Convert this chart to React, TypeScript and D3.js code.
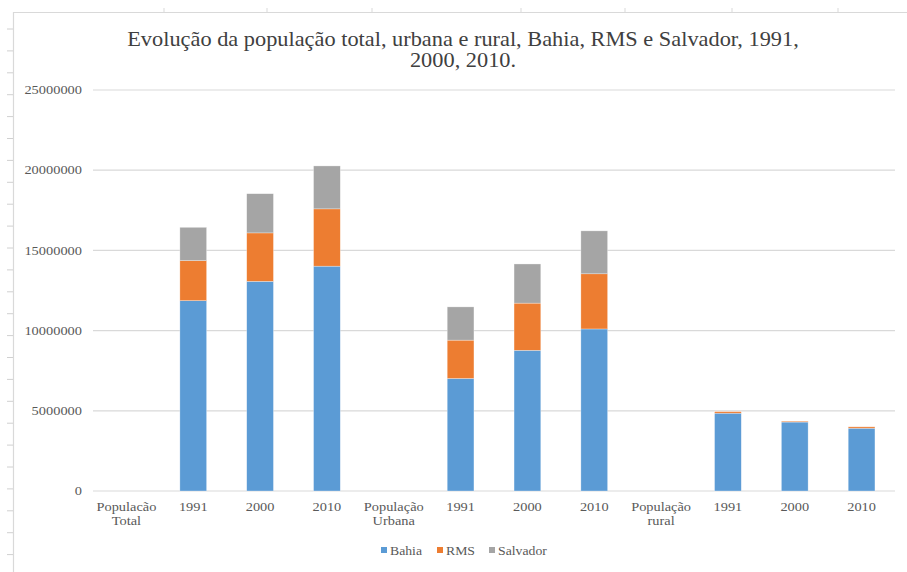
import React from "react";
import * as d3 from "d3";

// Category axis: group headers followed by census years
const categories = [
  "Populacão\nTotal", "1991", "2000", "2010",
  "População\nUrbana", "1991", "2000", "2010",
  "População\nrural", "1991", "2000", "2010",
];

// Population per series (group header slots carry no bar)
const bahia = [0, 11867991, 13070250, 14016906, 0, 7016770, 8772348, 10102476, 0, 4851221, 4297902, 3914430];
const rms = [0, 2496521, 3021572, 3573973, 0, 2388000, 2940000, 3440000, 0, 108000, 60000, 90000];
const salvador = [0, 2075273, 2443107, 2675656, 0, 2073510, 2442102, 2674923, 0, 1763, 1005, 733];

const seriesNames = ["Bahia", "RMS", "Salvador"];
const seriesColors = ["#5B9BD5", "#ED7D31", "#A5A5A5"];
const yTicks = [0, 5000000, 10000000, 15000000, 20000000, 25000000];

// Decorative frame tick positions
const topFrameTicks = [164, 267, 372, 521, 625, 732, 838];

const W = 907;
const H = 572;
const FONT = "'Liberation Serif'";

// Text with a slight horizontal stretch, anchored at (x, y)
function SText({
  x, y, sx = 1.15, size, anchor = "start", fill = "#595959", children,
}: {
  x: number; y: number; sx?: number; size: number; anchor?: string; fill?: string; children: React.ReactNode;
}) {
  return (
    <g transform={`translate(${x},${y}) scale(${sx},1)`}>
      <text x={0} y={0} textAnchor={anchor as any} fontSize={size} fill={fill} style={{ fontFamily: FONT }}>
        {children}
      </text>
    </g>
  );
}

export default function App() {
  const plotLeft = 93;
  const plotRight = 895;
  const plotTop = 90;
  const plotBottom = 491;

  const x = d3
    .scaleBand<number>()
    .domain(categories.map((_, i) => i))
    .range([plotLeft, plotRight])
    .paddingInner(0.6)
    .paddingOuter(0.3);

  const y = d3.scaleLinear().domain([0, 25000000]).range([plotBottom, plotTop]);

  const rows = categories.map((_, i) => ({
    i,
    Bahia: bahia[i],
    RMS: rms[i],
    Salvador: salvador[i],
  }));
  const stack = d3.stack<any>().keys(seriesNames)(rows);

  const leftTicks = d3.range(29, 560, 21.9);

  const legendItems = [
    { name: "Bahia", x: 381 },
    { name: "RMS", x: 437 },
    { name: "Salvador", x: 489 },
  ];

  return (
    <svg
      width={W}
      height={H}
      style={{ position: "absolute", left: 0, top: 0, background: "#fff", fontFamily: FONT }}
    >
      {/* page frame */}
      <line x1={13} x2={907} y1={12.5} y2={12.5} stroke="#d9d9d9" strokeWidth={1.2} />
      <line x1={13.5} x2={13.5} y1={12} y2={H} stroke="#d9d9d9" strokeWidth={1.2} />
      {topFrameTicks.map((t) => (
        <line key={"tt" + t} x1={t} x2={t} y1={8} y2={12} stroke="#d9d9d9" />
      ))}
      {leftTicks.map((t) => (
        <line key={"lt" + t} x1={7} x2={13} y1={t} y2={t} stroke="#d0d0d0" />
      ))}

      {/* title */}
      <SText x={463} y={46} sx={1.09} size={20.5} anchor="middle" fill="#404040">
        Evolução da população total, urbana e rural, Bahia, RMS e Salvador, 1991,
      </SText>
      <SText x={463} y={67} sx={1.09} size={20.5} anchor="middle" fill="#404040">
        2000, 2010.
      </SText>

      {/* gridlines and y labels */}
      {yTicks.map((t) => (
        <g key={t}>
          <line
            x1={plotLeft}
            x2={plotRight}
            y1={y(t)}
            y2={y(t)}
            stroke="#d9d9d9"
            strokeWidth={1.2}
          />
          <SText x={82} y={y(t) + 4.2} sx={1.2} size={12} anchor="end">
            {t}
          </SText>
        </g>
      ))}

      {/* stacked bars */}
      {stack.map((layer, si) => (
        <g key={layer.key} fill={seriesColors[si]}>
          {layer.map((d, i) =>
            d[1] - d[0] > 0 ? (
              <rect
                key={i}
                x={x(i)}
                width={x.bandwidth()}
                y={y(d[1])}
                height={y(d[0]) - y(d[1])}
                stroke="#ffffff"
                strokeOpacity={0.5}
                strokeWidth={0.6}
              />
            ) : null
          )}
        </g>
      ))}

      {/* x labels */}
      {categories.map((c, i) => {
        const cx = (x(i) as number) + x.bandwidth() / 2;
        return (
          <g key={i}>
            {c.split("\n").map((ln, k) => (
              <SText key={k} x={cx} y={511 + k * 14} sx={1.15} size={12.5} anchor="middle">
                {ln}
              </SText>
            ))}
          </g>
        );
      })}

      {/* legend */}
      {legendItems.map((l, i) => (
        <g key={l.name}>
          <rect x={l.x} y={547} width={6} height={6} fill={seriesColors[i]} />
          <SText x={l.x + 9} y={555} sx={1.1} size={12.5}>
            {l.name}
          </SText>
        </g>
      ))}
    </svg>
  );
}
